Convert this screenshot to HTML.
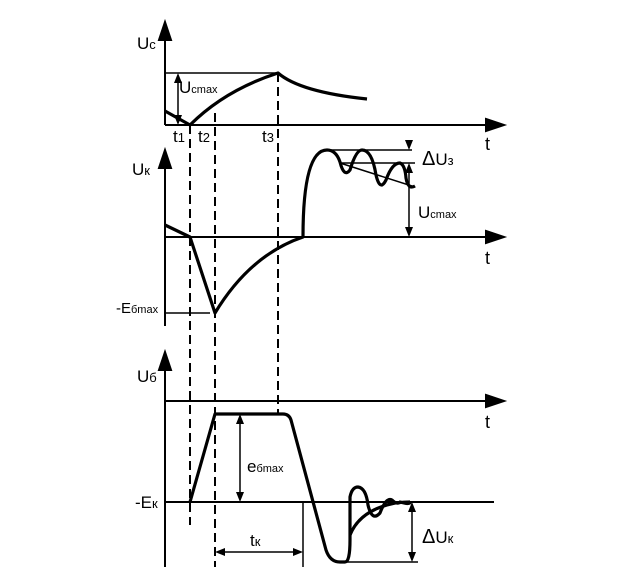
<!DOCTYPE html>
<html><head><meta charset="utf-8"><style>
html,body{margin:0;padding:0;background:#fff;}
svg{display:block;}
text{font-family:"Liberation Sans",sans-serif;fill:#000;}
</style></head><body>
<svg width="628" height="588" viewBox="0 0 628 588" xmlns="http://www.w3.org/2000/svg">
<g stroke="#000" stroke-width="2" fill="none">
<line x1="165" y1="125" x2="165" y2="26"/>
<path d="M159,40 L165,22 L171,40 Z" fill="#000"/>
<line x1="165" y1="125" x2="490" y2="125"/>
<path d="M486,119 L504,125 L486,131 Z" fill="#000"/>
<line x1="165" y1="326" x2="165" y2="154"/>
<path d="M159,168 L165,150 L171,168 Z" fill="#000"/>
<line x1="165" y1="237" x2="490" y2="237"/>
<path d="M486,231 L504,237 L486,243 Z" fill="#000"/>
<line x1="165" y1="567" x2="165" y2="356"/>
<path d="M159,370 L165,352 L171,370 Z" fill="#000"/>
<line x1="165" y1="401" x2="490" y2="401"/>
<path d="M486,395 L504,401 L486,407 Z" fill="#000"/>
<line x1="165" y1="502" x2="494" y2="502"/>
</g>
<g stroke="#000" stroke-width="2" fill="none" stroke-dasharray="9,5">
<line x1="190" y1="125" x2="190" y2="525"/>
<line x1="215" y1="113" x2="215" y2="567"/>
<line x1="278" y1="73" x2="278" y2="414"/>
</g>
<g stroke="#000" stroke-width="1.5" fill="none">
<line x1="165" y1="73" x2="278" y2="73"/>
<line x1="178" y1="80" x2="178" y2="118"/>
<line x1="165" y1="313" x2="210" y2="313"/>
<line x1="327" y1="150" x2="412" y2="150"/>
<line x1="340" y1="163" x2="415" y2="163"/>
<line x1="340" y1="163" x2="415" y2="187"/>
<line x1="409" y1="140" x2="409" y2="146"/>
<line x1="409" y1="167" x2="409" y2="232"/>
<line x1="240" y1="420" x2="240" y2="496"/>
<line x1="220" y1="552" x2="298" y2="552"/>
<line x1="303" y1="502" x2="303" y2="567"/>
<line x1="345" y1="562" x2="418" y2="562"/>
<line x1="412" y1="508" x2="412" y2="556"/>
</g>
<g fill="#000">
<path d="M174,83 L178,73 L182,83 Z"/><path d="M174,115 L178,125 L182,115 Z"/>
<path d="M405,140 L409,150 L413,140 Z"/><path d="M405,173 L409,163 L413,173 Z"/>
<path d="M405,227 L409,237 L413,227 Z"/>
<path d="M236,424 L240,414 L244,424 Z"/><path d="M236,492 L240,502 L244,492 Z"/>
<path d="M225,548 L215,552 L225,556 Z"/><path d="M293,548 L303,552 L293,556 Z"/>
<path d="M408,512 L412,502 L416,512 Z"/><path d="M408,552 L412,562 L416,552 Z"/>
</g>
<g stroke="#000" stroke-width="3.2" fill="none" stroke-linejoin="round">
<path d="M165,111 L190,125 Q225,90 278,73 Q300,92 367,99"/>
<path d="M165,225 L190,237 L215,313 Q250,255 303,237 Q303,150 327,150 Q336,150 340,162 Q344,178 350,170 Q356,150 362,150 Q372,150 376,175 Q380,192 386,180 Q392,163 400,163 Q405,165 406,178 Q408,190 415,186"/>
<path d="M190,502 L215,414 L283,414 Q289,414 291,420 L326,550 Q330,562 340,562 L345,562 Q350,562 350,540 L350,497 Q352,487 358,487 Q366,488 368,505 Q372,522 380,513 Q386,497 392,500 Q397,505 400,502 Q410,505 410,502"/>
<path d="M350,535 Q360,510 395,503 Q405,502 410,502"/>
</g>
<g font-size="17">
<text x="137" y="49">U<tspan font-size="13">c</tspan></text>
<text x="179" y="93">U<tspan font-size="11">cmax</tspan></text>
<text x="173" y="142">t<tspan font-size="13">1</tspan></text>
<text x="198" y="142">t<tspan font-size="13">2</tspan></text>
<text x="262" y="142">t<tspan font-size="13">3</tspan></text>
<text x="485" y="150" font-size="18">t</text>
<text x="132" y="175">U<tspan font-size="13">к</tspan></text>
<text x="422" y="165" font-size="20">Δ<tspan font-size="17">U</tspan><tspan font-size="13">з</tspan></text>
<text x="418" y="218">U<tspan font-size="11">cmax</tspan></text>
<text x="485" y="264" font-size="18">t</text>
<text x="116" y="313" font-size="15">-E<tspan font-size="11">бmax</tspan></text>
<text x="137" y="382">U<tspan font-size="13">б</tspan></text>
<text x="485" y="428" font-size="18">t</text>
<text x="247" y="472">e<tspan font-size="11">бmax</tspan></text>
<text x="135" y="508">-E<tspan font-size="13">к</tspan></text>
<text x="250" y="546">t<tspan font-size="13">к</tspan></text>
<text x="422" y="543" font-size="20">Δ<tspan font-size="17">U</tspan><tspan font-size="13">к</tspan></text>
</g>
</svg>
</body></html>
